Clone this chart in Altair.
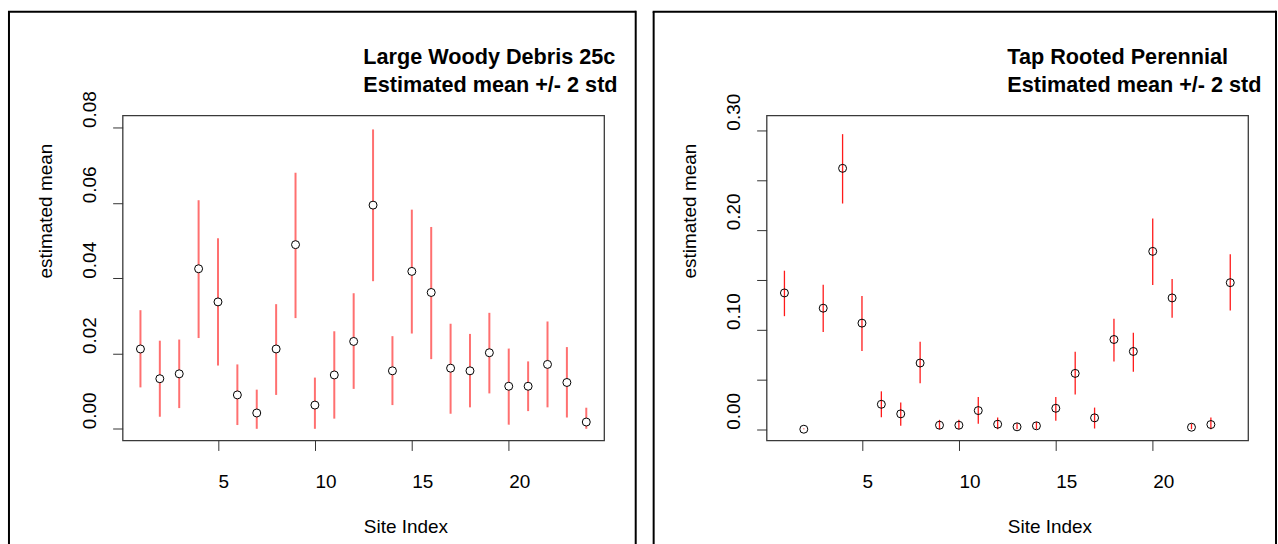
import altair as alt
import pandas as pd

SITES = list(range(1, 25))

LWD_MEAN = [0.0212, 0.0133, 0.0146, 0.0425, 0.0337, 0.0090, 0.0042, 0.0212, 0.0489, 0.0063, 0.0143, 0.0232,
            0.0594, 0.0154, 0.0418, 0.0362, 0.0161, 0.0154, 0.0202, 0.0113, 0.0113, 0.0171, 0.0123, 0.0018]
LWD_LO = [0.0110, 0.0032, 0.0055, 0.0241, 0.0168, 0.0010, 0.0, 0.0090, 0.0294, 0.0, 0.0027, 0.0106,
          0.0392, 0.0063, 0.0253, 0.0185, 0.0040, 0.0057, 0.0094, 0.0011, 0.0047, 0.0057, 0.0030, 0.0]
LWD_HI = [0.0315, 0.0234, 0.0237, 0.0607, 0.0506, 0.0171, 0.0104, 0.0331, 0.0680, 0.0136, 0.0259, 0.0360,
          0.0795, 0.0246, 0.0582, 0.0536, 0.0279, 0.0252, 0.0308, 0.0213, 0.0179, 0.0285, 0.0217, 0.0056]

TRP_MEAN = [0.1367, 0.0, 0.1214, 0.2617, 0.1064, 0.025, 0.0154, 0.0664, 0.004, 0.004, 0.0187, 0.005,
            0.0024, 0.0034, 0.021, 0.056, 0.0114, 0.090, 0.078, 0.1784, 0.1317, 0.002, 0.0047, 0.147]
TRP_LO = [0.1134, 0.0, 0.0974, 0.2264, 0.0784, 0.012, 0.0034, 0.046, 0.0, 0.0, 0.0054, 0.0,
          0.0, 0.0, 0.0084, 0.0347, 0.0007, 0.068, 0.0577, 0.1447, 0.1117, 0.0, 0.0, 0.119]
TRP_HI = [0.159, 0.0008, 0.145, 0.296, 0.1337, 0.038, 0.0267, 0.0877, 0.0094, 0.0094, 0.0324, 0.0117,
          0.006, 0.0073, 0.0324, 0.0777, 0.0217, 0.1107, 0.0967, 0.2114, 0.1507, 0.0054, 0.0117, 0.1754]

LEFT_TITLE = ["Large Woody Debris 25c", "Estimated mean +/- 2 std"]
RIGHT_TITLE = ["Tap Rooted Perennial", "Estimated mean +/- 2 std"]

LEFT_Y_TICKS = [0.0, 0.02, 0.04, 0.06, 0.08]
RIGHT_Y_TICKS = [0.0, 0.05, 0.10, 0.15, 0.20, 0.25, 0.30]
X_TICKS = [5, 10, 15, 20]

FONT = "Liberation Sans"
W, H = 483, 326
ONE = pd.DataFrame({"k": [0]})


def x_axis():
    return alt.Axis(values=X_TICKS, format="d", title="Site Index", grid=False, domain=False,
                    tickSize=10, tickColor="#333333", tickWidth=1,
                    labelFont=FONT, labelFontSize=19, labelColor="black", labelAlign="left",
                    labelBaseline="alphabetic", labelPadding=37, labelAngle=0,
                    labelOverlap=False, labelFlush=False,
                    titleFont=FONT, titleFontSize=19, titleFontWeight="normal", titleColor="black",
                    titleAlign="left", titleBaseline="alphabetic", titleX=W / 2, titleY=92)


def y_axis(values, label_expr):
    return alt.Axis(values=values, labelExpr=label_expr, title="estimated mean", grid=False, domain=False,
                    tickSize=10, tickColor="#333333", tickWidth=1,
                    labelFont=FONT, labelFontSize=19, labelColor="black", labelAngle=270,
                    labelAlign="left", labelBaseline="alphabetic", labelPadding=17,
                    labelOverlap=False, labelFlush=False,
                    titleFont=FONT, titleFontSize=19, titleFontWeight="normal", titleColor="black",
                    titleAngle=270, titleAlign="left", titleBaseline="alphabetic",
                    titleX=-71, titleY=H / 2)


def panel(mean, lo, hi, ydomain, yticks, label_expr, title, bar_color, bar_width, point_fill,
          frame_left, frame_right):
    df = pd.DataFrame({"site": SITES, "mean": mean, "lo": lo, "hi": hi})
    xs = alt.Scale(domain=[0.08, 24.92], nice=False, zero=False)
    ys = alt.Scale(domain=ydomain, nice=False, zero=False)

    bars = alt.Chart(df).mark_rule(color=bar_color, strokeWidth=bar_width).encode(
        x=alt.X("site:Q", scale=xs, axis=x_axis()),
        y=alt.Y("lo:Q", scale=ys, axis=y_axis(yticks, label_expr)),
        y2="hi:Q",
    )
    pts = alt.Chart(df).mark_point(shape="circle", size=64, color="black", strokeWidth=1,
                                   filled=False, fill=point_fill, fillOpacity=1 if point_fill else 0,
                                   opacity=1).encode(
        x=alt.X("site:Q", scale=xs),
        y=alt.Y("mean:Q", scale=ys),
    )
    t1 = alt.Chart(pd.DataFrame({"t": [title[0]]})).mark_text(
        font=FONT, fontSize=21.7, fontWeight="bold", align="left", baseline="alphabetic", color="black"
    ).encode(text="t:N", x=alt.value(W / 2), y=alt.value(-51.5))
    t2 = alt.Chart(pd.DataFrame({"t": [title[1]]})).mark_text(
        font=FONT, fontSize=21.7, fontWeight="bold", align="left", baseline="alphabetic", color="black"
    ).encode(text="t:N", x=alt.value(W / 2), y=alt.value(-23.5))

    layers = []
    # outer frame (decoration)
    layers.append(alt.Chart(ONE).mark_rule(color="black", strokeWidth=2).encode(
        x=alt.value(frame_left), y=alt.value(-104), y2=alt.value(431)))
    layers.append(alt.Chart(ONE).mark_rule(color="black", strokeWidth=2).encode(
        x=alt.value(frame_left - 1), x2=alt.value(frame_right), y=alt.value(-104)))
    if frame_right < 500 + 20:
        layers.append(alt.Chart(ONE).mark_rule(color="black", strokeWidth=2).encode(
            x=alt.value(frame_right), y=alt.value(-105), y2=alt.value(431)))
    layers += [bars, pts, t1, t2]
    return alt.layer(*layers).properties(width=W, height=H)


left = panel(LWD_MEAN, LWD_LO, LWD_HI, [-0.0031, 0.0832], LEFT_Y_TICKS,
             "format(datum.value, '.2f')", LEFT_TITLE, "#ff7070", 2.0, "white", -114, 514.7)
right = panel(TRP_MEAN, TRP_LO, TRP_HI, [-0.0113, 0.3147], RIGHT_Y_TICKS,
              "round(datum.value * 100) % 10 == 0 ? format(datum.value, '.2f') : ''",
              RIGHT_TITLE, "#ff1a1a", 1.3, None, -113.3, 511)

chart = alt.hconcat(left, right, spacing=163, bounds="flush").properties(
    padding={"left": 6, "top": 8, "right": 0, "bottom": 0},
    background="white",
).configure_view(stroke="#3a3a3a", strokeWidth=1.3)

chart.save("out.html", embed_options={"renderer": "svg", "actions": False})
